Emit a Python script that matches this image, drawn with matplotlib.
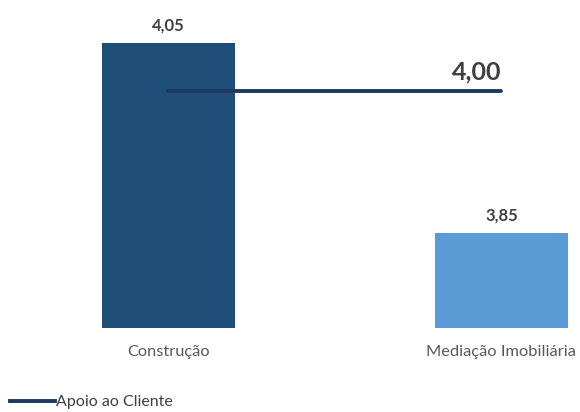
import matplotlib.pyplot as plt
from matplotlib.lines import Line2D

plt.rcParams['font.family'] = ['Lato', 'DejaVu Sans']

# Data
categories = ['Construção', 'Mediação Imobiliária']
scores = [4.05, 3.85]
support_label = 'Apoio ao Cliente'
support_score = 4.00

bar_colors = ['#1F4E79', '#5B9BD5']
line_color = '#1F3864'

fig = plt.figure(figsize=(5.8, 4.12), dpi=100)
ax = fig.add_axes([0.0, 0.203, 1.0, 0.785])

x = list(range(len(categories)))
ax.bar(x, scores, width=0.4, color=bar_colors)
ax.plot(x, [support_score] * len(x), color=line_color, linewidth=2.8,
        solid_capstyle='round')

for xi, v in zip(x, scores):
    ax.text(xi, v + 0.01, f'{v:.2f}'.replace('.', ','), ha='center', va='bottom',
            fontsize=12, fontweight='bold', color='#404040')

ax.text(x[-1], support_score + 0.007, f'{support_score:.2f}'.replace('.', ','),
        ha='right', va='bottom', fontsize=18, fontweight='bold', color='#404040')

ax.set_xlim(-0.506, 1.236)
ax.set_ylim(3.75, 4.09)
ax.set_xticks(x)
ax.set_xticklabels(categories, fontsize=11.8, color='#595959')
ax.tick_params(axis='x', length=0, pad=12)
ax.set_yticks([])
for s in ax.spines.values():
    s.set_visible(False)

handle = Line2D([0], [0], color=line_color, linewidth=2.8)
fig.legend([handle], [support_label], loc='center left',
           bbox_to_anchor=(10 / 580, 10 / 412), frameon=False, fontsize=11.5,
           handlelength=2.8, handletextpad=0.1, borderaxespad=0, borderpad=0,
           labelcolor='#404040')

fig.savefig('out.png', dpi=100)
